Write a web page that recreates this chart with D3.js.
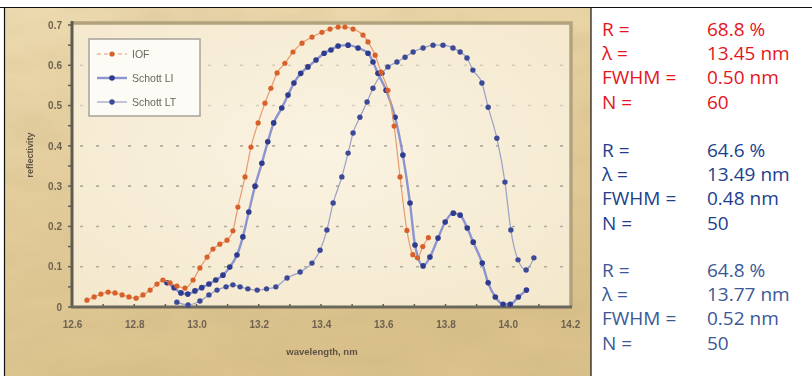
<!DOCTYPE html>
<html>
<head>
<meta charset="utf-8">
<script src="https://cdn.jsdelivr.net/npm/d3@7"></script>
<style>
  html, body { margin: 0; padding: 0; background: #fff; }
  svg { display: block; }
</style>
</head>
<body>
<div id="app"></div>
<script>
// wavelength (nm) / reflectivity
const iofX = [12.648, 12.671, 12.693, 12.716, 12.738, 12.761, 12.783, 12.806, 12.828, 12.851, 12.873, 12.892,
  12.915, 12.937, 12.963, 12.989, 13.011, 13.034, 13.053, 13.075, 13.098, 13.117, 13.133, 13.156, 13.175,
  13.198, 13.220, 13.239, 13.259, 13.284, 13.310, 13.339, 13.371, 13.403, 13.429, 13.455, 13.477, 13.503,
  13.535, 13.551, 13.574, 13.593, 13.615, 13.635, 13.654, 13.676, 13.695, 13.710, 13.727, 13.745];
const iofY = [0.017, 0.025, 0.032, 0.037, 0.035, 0.030, 0.025, 0.022, 0.030, 0.042, 0.057, 0.067,
  0.060, 0.052, 0.047, 0.067, 0.097, 0.124, 0.144, 0.156, 0.166, 0.189, 0.248, 0.323, 0.397,
  0.457, 0.506, 0.543, 0.581, 0.605, 0.633, 0.655, 0.670, 0.682, 0.690, 0.695, 0.695, 0.690,
  0.675, 0.658, 0.625, 0.583, 0.538, 0.449, 0.323, 0.190, 0.130, 0.122, 0.150, 0.172];

const lt1X = [12.905, 12.928, 12.950, 12.972, 12.995, 13.017, 13.040, 13.062, 13.085, 13.107, 13.130, 13.149,
  13.168, 13.188, 13.210, 13.229, 13.248, 13.274, 13.294, 13.313, 13.335, 13.358, 13.384, 13.410, 13.432,
  13.455, 13.487, 13.519, 13.551, 13.567, 13.583, 13.609, 13.638, 13.663, 13.686, 13.702, 13.728, 13.750,
  13.776, 13.799, 13.825, 13.847, 13.870, 13.889, 13.918, 13.937, 13.960, 13.985, 14.008, 14.034, 14.060];
const lt1Y = [0.060, 0.048, 0.035, 0.032, 0.040, 0.048, 0.057, 0.067, 0.079, 0.099, 0.129, 0.174,
  0.236, 0.300, 0.357, 0.410, 0.457, 0.494, 0.526, 0.556, 0.580, 0.596, 0.613, 0.630, 0.638,
  0.648, 0.650, 0.643, 0.630, 0.608, 0.580, 0.538, 0.471, 0.377, 0.258, 0.154, 0.102, 0.124,
  0.171, 0.211, 0.233, 0.228, 0.196, 0.161, 0.109, 0.060, 0.025, 0.007, 0.007, 0.025, 0.042];

const lt2X = [12.937, 12.973, 13.011, 13.040, 13.066, 13.095, 13.117, 13.140, 13.165, 13.195, 13.225, 13.255,
  13.291, 13.333, 13.371, 13.397, 13.419, 13.439, 13.467, 13.487, 13.503, 13.525, 13.548, 13.567, 13.596,
  13.615, 13.644, 13.670, 13.696, 13.728, 13.760, 13.792, 13.824, 13.847, 13.869, 13.888, 13.917, 13.937,
  13.965, 13.991, 14.010, 14.033, 14.059, 14.084];
const lt2Y = [0.012, 0.005, 0.015, 0.030, 0.042, 0.050, 0.055, 0.050, 0.045, 0.042, 0.045, 0.050,
  0.072, 0.087, 0.109, 0.141, 0.191, 0.258, 0.323, 0.382, 0.432, 0.471, 0.509, 0.543, 0.580,
  0.596, 0.608, 0.620, 0.633, 0.643, 0.650, 0.650, 0.643, 0.633, 0.618, 0.588, 0.556, 0.496,
  0.419, 0.310, 0.191, 0.117, 0.092, 0.122];

const seriesNames = ['IOF', 'Schott LI', 'Schott LT'];
const xTicks = [12.6, 12.8, 13.0, 13.2, 13.4, 13.6, 13.8, 14.0, 14.2];
const yTicks = [0, 0.1, 0.2, 0.3, 0.4, 0.5, 0.6, 0.7];

const statLabels = ['R =', '\u03bb =', 'FWHM =', 'N ='];
const stats1 = ['68.8 %', '13.45 nm', '0.50 nm', '60'];
const stats2 = ['64.6 %', '13.49 nm', '0.48 nm', '50'];
const stats3 = ['64.8 %', '13.77 nm', '0.52 nm', '50'];

const width = 812, height = 376;
const plot = { left: 72, right: 570, top: 25, bottom: 307 };

const svg = d3.select('#app').append('svg')
  .attr('width', width)
  .attr('height', height);

const defs = svg.append('defs');

// parchment look
const bg = defs.append('linearGradient').attr('id', 'paper')
  .attr('x1', 0).attr('y1', 0).attr('x2', 0.3).attr('y2', 1);
bg.append('stop').attr('offset', 0).attr('stop-color', '#ecdab0');
bg.append('stop').attr('offset', 0.5).attr('stop-color', '#e6cf9e');
bg.append('stop').attr('offset', 1).attr('stop-color', '#dbc28c');

const inner = defs.append('radialGradient').attr('id', 'inner')
  .attr('cx', 0.5).attr('cy', 0.45).attr('r', 0.7);
inner.append('stop').attr('offset', 0).attr('stop-color', '#faf3e2');
inner.append('stop').attr('offset', 1).attr('stop-color', '#f4e8cd');

const grain = defs.append('filter').attr('id', 'grain')
  .attr('x', 0).attr('y', 0).attr('width', 1).attr('height', 1);
grain.append('feTurbulence').attr('type', 'fractalNoise')
  .attr('baseFrequency', '0.012 0.03').attr('numOctaves', 3).attr('seed', 4);
grain.append('feColorMatrix').attr('type', 'matrix')
  .attr('values', '0 0 0 0 0.55  0 0 0 0 0.42  0 0 0 0 0.2  0 0 0 0.9 -0.25');

const soft = defs.append('filter').attr('id', 'soft');
soft.append('feGaussianBlur').attr('stdDeviation', 0.6);

svg.append('rect').attr('x', 4).attr('y', 7).attr('width', 587).attr('height', height - 7)
  .attr('fill', 'url(#paper)');
svg.append('rect').attr('x', 4).attr('y', 7).attr('width', 587).attr('height', height - 7)
  .attr('filter', 'url(#grain)').attr('opacity', 0.5);

// frame lines of the table
svg.append('line').attr('x1', 0).attr('x2', width).attr('y1', 7.5).attr('y2', 7.5)
  .attr('stroke', '#111').attr('stroke-width', 1.2);
svg.append('line').attr('x1', 4.5).attr('x2', 4.5).attr('y1', 7).attr('y2', height)
  .attr('stroke', '#111').attr('stroke-width', 1.2);
svg.append('rect').attr('x', 591).attr('y', 8).attr('width', width - 591).attr('height', height - 8)
  .attr('fill', '#fff');
svg.append('line').attr('x1', 591).attr('x2', 591).attr('y1', 7).attr('y2', height)
  .attr('stroke', '#111').attr('stroke-width', 1.2);

// scales
const x = d3.scaleLinear().domain([12.6, 14.2]).range([plot.left, plot.right]);
const y = d3.scaleLinear().domain([0, 0.7]).range([plot.bottom, plot.top]);

const chart = svg.append('g').attr('filter', 'url(#soft)');

chart.append('rect')
  .attr('x', plot.left).attr('y', plot.top - 3)
  .attr('width', plot.right - plot.left).attr('height', plot.bottom - plot.top + 3)
  .attr('fill', 'url(#inner)');

// top and right frame (tan)
chart.append('path')
  .attr('d', `M${plot.left},${plot.top - 2}H${plot.right + 1}V${plot.bottom}`)
  .attr('fill', 'none').attr('stroke', '#b3a27e').attr('stroke-width', 3.5);

// dotted grid
chart.append('g').selectAll('line')
  .data(yTicks.filter(d => d > 0 && d < 0.7))
  .join('line')
  .attr('x1', plot.left + 8).attr('x2', plot.right - 6)
  .attr('y1', d => y(d)).attr('y2', d => y(d))
  .attr('stroke', '#a9a59a').attr('stroke-width', 1.6)
  .attr('stroke-dasharray', '3,13')
  .attr('opacity', d => d >= 0.5 ? 0.45 : 0.9);

// axes
const yAxis = chart.append('g').attr('transform', `translate(${plot.left},0)`)
  .call(d3.axisLeft(y).tickValues(yTicks).tickFormat(d => d === 0 ? '0' : d3.format('.1f')(d))
    .tickSize(0).tickPadding(10));
yAxis.select('.domain').remove();
yAxis.selectAll('text')
  .attr('font-family', 'Arial, "Liberation Sans", sans-serif')
  .attr('font-size', 10).attr('font-weight', 'bold').attr('fill', '#6e6250');

const xAxis = chart.append('g').attr('transform', `translate(0,${plot.bottom})`)
  .call(d3.axisBottom(x).tickValues(xTicks).tickFormat(d3.format('.1f'))
    .tickSize(0).tickPadding(14));
xAxis.select('.domain').remove();
xAxis.selectAll('text')
  .attr('font-family', 'Arial, "Liberation Sans", sans-serif')
  .attr('font-size', 10).attr('font-weight', 'bold').attr('fill', '#6e6250');

// minor ticks
chart.append('g').selectAll('line')
  .data(d3.range(0, 0.701, 0.05))
  .join('line')
  .attr('x1', plot.left - 4).attr('x2', plot.left)
  .attr('y1', d => y(d)).attr('y2', d => y(d))
  .attr('stroke', '#5f5d52').attr('stroke-width', 1.5);
chart.append('g').selectAll('line')
  .data(d3.range(12.7, 14.15, 0.1))
  .join('line')
  .attr('x1', d => x(d)).attr('x2', d => x(d))
  .attr('y1', plot.bottom).attr('y2', plot.bottom - 3)
  .attr('stroke', '#5f5d52').attr('stroke-width', 1.5);

chart.append('line')
  .attr('x1', plot.left).attr('x2', plot.left).attr('y1', plot.top - 4).attr('y2', plot.bottom + 1)
  .attr('stroke', '#5f5d52').attr('stroke-width', 3);
chart.append('line')
  .attr('x1', plot.left - 1).attr('x2', plot.right + 2).attr('y1', plot.bottom).attr('y2', plot.bottom)
  .attr('stroke', '#6a675a').attr('stroke-width', 3);

// axis titles
chart.append('text')
  .attr('transform', `translate(33,155) rotate(-90)`)
  .attr('text-anchor', 'middle')
  .attr('font-family', 'Arial, "Liberation Sans", sans-serif')
  .attr('font-size', 9).attr('font-weight', 'bold').attr('fill', '#5d5242')
  .text('reflectivity');
chart.append('text')
  .attr('x', 322).attr('y', 355)
  .attr('text-anchor', 'middle')
  .attr('font-family', 'Arial, "Liberation Sans", sans-serif')
  .attr('font-size', 9.5).attr('font-weight', 'bold').attr('fill', '#5d5242')
  .text('wavelength, nm');

// series
const series = [
  { name: seriesNames[0], xs: iofX, ys: iofY, line: '#e79a6e', lw: 1.2, dot: '#d8602a', r: 2.6 },
  { name: seriesNames[1], xs: lt1X, ys: lt1Y, line: '#8c94cf', lw: 2.4, dot: '#2f3b8e', r: 2.8 },
  { name: seriesNames[2], xs: lt2X, ys: lt2Y, line: '#9aa0c6', lw: 1.2, dot: '#3a4896', r: 2.7 }
];

const line = d3.line().x(d => x(d[0])).y(d => y(d[1])).curve(d3.curveMonotoneX);

const order = [2, 1, 0];
order.forEach(i => {
  const s = series[i];
  const pts = s.xs.map((v, k) => [v, s.ys[k]]);
  chart.append('path').datum(pts)
    .attr('d', line).attr('fill', 'none')
    .attr('stroke', s.line).attr('stroke-width', s.lw);
  chart.append('g').selectAll('circle').data(pts).join('circle')
    .attr('cx', d => x(d[0])).attr('cy', d => y(d[1])).attr('r', s.r)
    .attr('fill', s.dot);
});

// legend
const lg = chart.append('g');
lg.append('rect').attr('x', 89).attr('y', 39).attr('width', 111).attr('height', 77)
  .attr('fill', '#fdfbf6').attr('stroke', '#a7a398').attr('stroke-width', 1.5);
series.forEach((s, i) => {
  const ly = 54 + i * 24;
  lg.append('line').attr('x1', 97).attr('x2', 127).attr('y1', ly).attr('y2', ly)
    .attr('stroke', s.line).attr('stroke-width', s.lw)
    .attr('stroke-dasharray', i === 0 ? '4,3' : null);
  lg.append('circle').attr('cx', 112).attr('cy', ly).attr('r', s.r).attr('fill', s.dot);
  lg.append('text').attr('x', 132).attr('y', ly + 4)
    .attr('font-family', 'Arial, "Liberation Sans", sans-serif')
    .attr('font-size', 10.5).attr('fill', '#6a665e')
    .text(s.name);
});

// side panel with fit results
const groups = [
  { vals: stats1, color: '#e3151d', top: 36 },
  { vals: stats2, color: '#213f8d', top: 157 },
  { vals: stats3, color: '#3b5896', top: 277 }
];
const panel = svg.append('g')
  .attr('font-family', '"Open Sans", "Noto Sans", sans-serif')
  .attr('font-size', 19);
groups.forEach(g => {
  statLabels.forEach((lab, i) => {
    panel.append('text').attr('x', 602).attr('y', g.top + i * 24.2)
      .attr('fill', g.color).text(lab);
    panel.append('text').attr('x', 707).attr('y', g.top + i * 24.2)
      .attr('fill', g.color).text(g.vals[i]);
  });
});
</script>
</body>
</html>
